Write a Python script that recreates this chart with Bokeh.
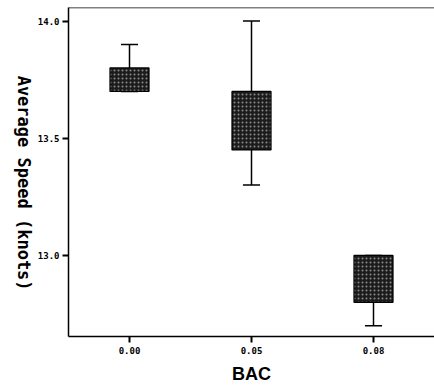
import math
from bokeh.plotting import figure
from bokeh.models import (Range1d, FixedTicker, Span, ColumnDataSource, NumeralTickFormatter,
                          LinearAxis)
from bokeh.transform import dodge
from bokeh.embed import file_html
from bokeh.resources import INLINE

# data
bac = ["0.00", "0.05", "0.08"]
lower = [13.70, 13.30, 12.70]
q1 = [13.70, 13.45, 12.80]
q3 = [13.80, 13.70, 13.00]
upper = [13.90, 14.00, 13.00]
y_ticks = [13.0, 13.5, 14.0]
y_start, y_end = 12.654, 14.058
y_title = "Average Speed (knots)"
x_title = "BAC"

src = ColumnDataSource(dict(bac=bac, lower=lower, q1=q1, q3=q3, upper=upper))

p = figure(x_range=bac, y_range=Range1d(y_start, y_end), width=434, height=387,
           output_backend="svg", toolbar_location=None,
           min_border_left=68, min_border_top=7, min_border_right=0, min_border_bottom=51)
p.x_range.range_padding = 0
p.grid.visible = False
p.outline_line_color = None
p.background_fill_color = "white"
p.border_fill_color = "white"

# top frame line
p.add_layout(Span(location=y_end, dimension="width", line_color="black", line_width=1.5))

# whiskers
p.segment(x0="bac", x1="bac", y0="q3", y1="upper", source=src, line_color="black", line_width=1.5)
p.segment(x0="bac", x1="bac", y0="lower", y1="q1", source=src, line_color="black", line_width=1.5)
# caps
p.segment(x0=dodge("bac", -0.07, range=p.x_range), x1=dodge("bac", 0.07, range=p.x_range),
          y0="upper", y1="upper", source=src, line_color="black", line_width=1.5)
p.segment(x0=dodge("bac", -0.07, range=p.x_range), x1=dodge("bac", 0.07, range=p.x_range),
          y0="lower", y1="lower", source=src, line_color="black", line_width=1.5)
# boxes
p.vbar(x="bac", top="q3", bottom="q1", width=0.32, source=src,
       fill_color="#1c1c1c", line_color="black", line_width=1.2,
       hatch_pattern="dot", hatch_color="#8a8a8a", hatch_scale=4, hatch_weight=1)

# axes
for ax in (p.xaxis[0], p.yaxis[0]):
    ax.axis_line_color = "black"
    ax.axis_line_width = 1.5
    ax.major_tick_line_color = "black"
    ax.major_tick_line_width = 2
    ax.major_tick_in = 0
    ax.major_tick_out = 6
    ax.minor_tick_line_color = None
    ax.major_label_text_font = "DejaVu Sans Mono"
    ax.major_label_text_font_size = "9px"
    ax.major_label_text_font_style = "bold"
    ax.major_label_text_color = "black"

p.yaxis.ticker = FixedTicker(ticks=y_ticks)
p.yaxis.formatter = NumeralTickFormatter(format="0.0")
p.yaxis.major_label_standoff = 3
p.xaxis.major_label_standoff = 4

p.xaxis.axis_label = x_title
p.xaxis.axis_label_text_font = "Liberation Sans"
p.xaxis.axis_label_text_font_size = "18px"
p.xaxis.axis_label_text_font_style = "bold"
p.xaxis.axis_label_text_color = "black"
p.xaxis.axis_label_standoff = 7

# y title reading top-to-bottom: a label-only axis; its text ends at the anchor value
title_anchor = 12.85
title_ax = LinearAxis(ticker=FixedTicker(ticks=[title_anchor]),
                      major_label_overrides={title_anchor: y_title},
                      major_label_orientation=-math.pi / 2,
                      axis_line_color=None, major_tick_line_color=None,
                      minor_tick_line_color=None, major_tick_out=0, major_tick_in=0,
                      major_label_standoff=11,
                      major_label_text_font="DejaVu Sans Mono",
                      major_label_text_font_size="17px",
                      major_label_text_font_style="bold",
                      major_label_text_color="black")
p.add_layout(title_ax, "left")

open("out.html", "w").write(file_html(p, INLINE))
